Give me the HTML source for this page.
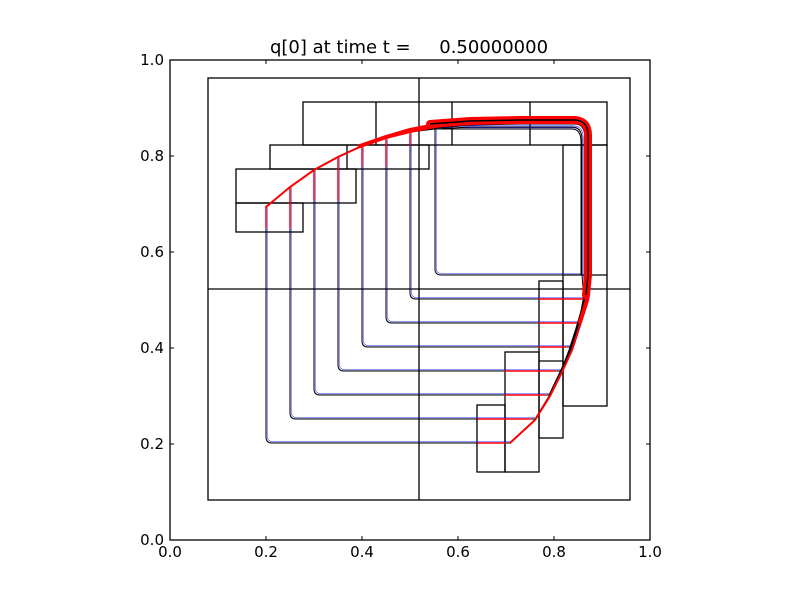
<!DOCTYPE html>
<html><head><meta charset="utf-8"><style>body{margin:0;background:#fff}svg{display:block}</style></head><body>
<svg width="800" height="600" xmlns="http://www.w3.org/2000/svg" font-family="DejaVu Sans, Liberation Sans, sans-serif">
<rect width="800" height="600" fill="#fff"/>
<g fill="none" stroke="#000" stroke-width="1.3">
<rect x="208" y="78" width="422" height="422"/>
<line x1="419" y1="78" x2="419" y2="500"/>
<line x1="208" y1="289" x2="630" y2="289"/>
<rect x="303" y="102" width="304" height="43"/>
<line x1="376" y1="102" x2="376" y2="145"/><line x1="452" y1="102" x2="452" y2="145"/><line x1="530" y1="102" x2="530" y2="145"/>
<rect x="270" y="145" width="159" height="24"/><line x1="347" y1="145" x2="347" y2="169"/>
<rect x="236" y="169" width="120" height="34"/><rect x="236" y="203" width="67" height="29"/>
<rect x="563" y="145" width="44" height="261"/><line x1="563" y1="275" x2="607" y2="275"/>
<rect x="539" y="281" width="24" height="157"/><line x1="539" y1="361" x2="563" y2="361"/>
<rect x="505" y="352" width="34" height="120"/>
<rect x="477" y="405" width="28" height="67"/>
</g>
<defs>
<g id="c">
<path d="M266,437 L266,207 L290,187 314,170 338,157 362,146 386,138 410,132 435,127 470,122 520,120 575,120 Q590,120 590,135 L590,275 588,300 580,325 572,350 562,372 550,396 535,420 510,443 L272,443 Q266,443 266,437Z"/>
<path d="M290,413 L290,187 314,170 338,157 362,146 386,138 410,132 435,127 470,122 520,121 575,121 Q589,121 589,136 L589,275 587,300 579,325 571,350 561,372 549,396 535,419 L296,419 Q290,419 290,413Z"/>
<path d="M314,389 L314,170 338,157 362,146 386,138 410,132 435,127 470,122 520,121 575,122 Q588,122 588,137 L588,275 586,300 578,325 570,350 560,372 549,395 L320,395 Q314,395 314,389Z"/>
<path d="M338,365 L338,157 362,146 386,138 410,132 435,127 470,123 520,122 575,122 Q587,122 587,137 L587,275 585,300 577,325 569,350 561,371 L344,371 Q338,371 338,365Z"/>
<path d="M362,341 L362,146 386,138 410,132 435,127 470,124 520,123 575,123 Q586,123 586,138 L586,275 584,300 577,325 571,347 L368,347 Q362,347 362,341Z"/>
<path d="M386,317 L386,138 410,132 435,128 470,125 520,124 575,124 Q585,124 585,139 L585,275 583,300 579,323 L392,323 Q386,323 386,317Z"/>
<path d="M410,293 L410,132 435,129 470,127 520,127 572,127 Q582,127 582,140 L582,275 584,299 L416,299 Q410,299 410,293Z"/>
<path d="M435,269 L435,129 470,129 520,129 572,129 Q581,129 581,142 L581,275 L441,275 Q435,275 435,269Z"/>
</g>
</defs>
<g fill="none" stroke="#00f" stroke-width="0.6" opacity="0.8">
<use href="#c" transform="translate(1.2,-1.2)"/>
</g>
<g fill="none" stroke="#000" stroke-width="1"><use href="#c"/></g>
<g fill="none" stroke="#f00" stroke-linecap="round">
<path d="M266,207 L290,187 314,170 338,157 362,146 386,138 410,132 435,127 470,122 520,120 575,120 Q590,120 590,135 L590,275 588,300 580,325 572,350 562,372 550,396 535,420 510,443" stroke-width="2"/>
<path d="M360,146 L386,137 410,130 435,125 470,121 520,120 575,120 Q589,120 589,135 L589,275 587,300 580,322" stroke-width="4"/>
<path d="M430,124 L470,121 520,120 575,120 Q588,121 588,135 L588,275 586,295" stroke-width="8"/>
<g stroke-width="1.5">
<path d="M478,443H505M478,419H530M505,395H545M505,371H556M539,347H566M539,323H576M539,299H583"/>
<path d="M266,207V228M290,187V228M314,170V200M338,157V200M362,146V166M386,138V166M410,132V145"/>
</g>
</g>
<path d="M430,124 L470,121 520,120 575,120 Q588,121 588,135 L588,275 586,295" fill="none" stroke="#000" stroke-width="1.5"/>
<g stroke="#000" stroke-width="1">
<rect x="170" y="60" width="480" height="480" fill="none" stroke-width="1.3"/>
<path d="M170,540v-4M266,540v-4M362,540v-4M458,540v-4M554,540v-4M650,540v-4M170,60v4M266,60v4M362,60v4M458,60v4M554,60v4M650,60v4M170,540h4M170,444h4M170,348h4M170,252h4M170,156h4M170,60h4M650,540h-4M650,444h-4M650,348h-4M650,252h-4M650,156h-4M650,60h-4"/>
</g>
<g font-size="15" fill="#000" text-anchor="middle">
<text x="170" y="557">0.0</text><text x="266" y="557">0.2</text><text x="362" y="557">0.4</text><text x="458" y="557">0.6</text><text x="554" y="557">0.8</text><text x="650" y="557">1.0</text>
</g>
<g font-size="15" fill="#000" text-anchor="end">
<text x="164" y="545">0.0</text><text x="164" y="449">0.2</text><text x="164" y="353">0.4</text><text x="164" y="257">0.6</text><text x="164" y="161">0.8</text><text x="164" y="65">1.0</text>
</g>
<text x="409" y="53" font-size="18" text-anchor="middle" xml:space="preserve">q[0] at time t =     0.50000000</text>
</svg>
</body></html>
